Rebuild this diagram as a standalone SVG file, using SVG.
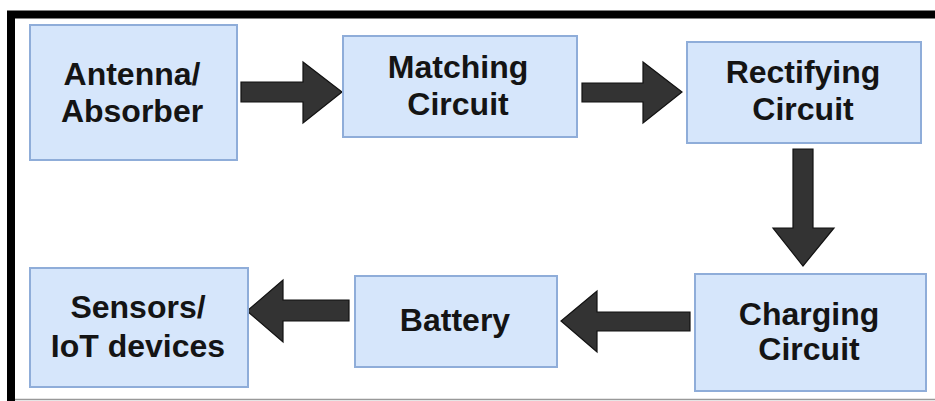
<svg xmlns="http://www.w3.org/2000/svg" width="935" height="401" viewBox="0 0 935 401">
<style>
.box{fill:#d6e6fb;stroke:#8fadd9;stroke-width:2}
.lbl{font-family:"Liberation Sans",Arial,sans-serif;font-weight:bold;font-size:32px;fill:#141414;text-anchor:middle}
.arr{fill:#333;stroke:#111;stroke-width:1.2;stroke-linejoin:miter}
</style>
<rect width="935" height="401" fill="#fff"/>
<g id="frame">
<path d="M11 401 V14.5 H935" fill="none" stroke="#000" stroke-width="8"/>
<line x1="15" y1="399.5" x2="935" y2="399.5" stroke="#999" stroke-width="1.5"/>
</g>
<g id="connectors">
<polygon class="arr" points="241,82 303,82 303,62 342,92 303,123 303,102 241,102"/>
<polygon class="arr" points="582,83 643,83 643,62 682,92 643,123 643,102 582,102"/>
<polygon class="arr" points="793,149 813,149 813,228 834,228 803,266 773,228 793,228"/>
<polygon class="arr" points="690,312 597,312 597,291 561,321 597,352 597,331 690,331"/>
<polygon class="arr" points="349,300 283,300 283,280 247,311 283,342 283,321 349,321"/>
</g>
<g id="antenna">
<rect class="box" x="30" y="25" width="207" height="135"/>
<text class="lbl" x="132" y="85">Antenna/</text>
<text class="lbl" x="132" y="122">Absorber</text>
</g>
<g id="matching">
<rect class="box" x="343" y="36" width="234" height="101"/>
<text class="lbl" x="458" y="78">Matching</text>
<text class="lbl" x="458" y="115">Circuit</text>
</g>
<g id="rectifying">
<rect class="box" x="687" y="42" width="234" height="101"/>
<text class="lbl" x="803" y="83">Rectifying</text>
<text class="lbl" x="803" y="120">Circuit</text>
</g>
<g id="charging">
<rect class="box" x="695" y="274" width="231" height="117"/>
<text class="lbl" x="809" y="325">Charging</text>
<text class="lbl" x="809" y="360">Circuit</text>
</g>
<g id="battery">
<rect class="box" x="355" y="276" width="202" height="91"/>
<text class="lbl" x="455" y="331">Battery</text>
</g>
<g id="sensors">
<rect class="box" x="30" y="268" width="218" height="119"/>
<text class="lbl" x="138" y="318">Sensors/</text>
<text class="lbl" x="138" y="357">IoT devices</text>
</g>
</svg>
